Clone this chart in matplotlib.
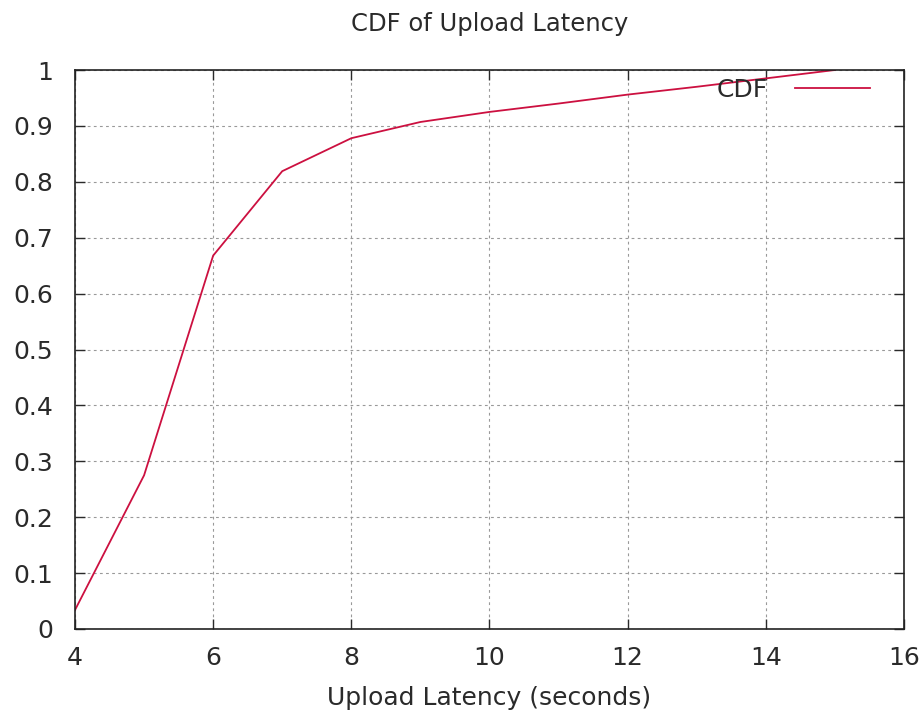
import matplotlib
matplotlib.use("Agg")
import matplotlib.pyplot as plt

latency = [4, 5, 6, 7, 8, 9, 10, 11, 12, 13, 14, 15]
cdf = [0.034, 0.275, 0.668, 0.819, 0.878, 0.907, 0.925, 0.940, 0.956, 0.970, 0.985, 1.0]
xticks = [4, 6, 8, 10, 12, 14, 16]
yticks = [0, 0.1, 0.2, 0.3, 0.4, 0.5, 0.6, 0.7, 0.8, 0.9, 1]
ytick_labels = ["0", "0.1", "0.2", "0.3", "0.4", "0.5", "0.6", "0.7", "0.8", "0.9", "1"]

plt.rcParams['font.family'] = ['DejaVu Sans']
fig = plt.figure(figsize=(9.24, 7.18), dpi=100)
ax = fig.add_axes([75/924, 89/718, 829/924, 559/718])

ax.plot(latency, cdf, color='#cc1040', lw=1.3, label='CDF')
ax.set_xlim(4, 16)
ax.set_ylim(0, 1)
ax.set_xticks(xticks)
ax.set_xticklabels([str(t) for t in xticks])
ax.set_yticks(yticks)
ax.set_yticklabels(ytick_labels)
ax.tick_params(direction='in', length=7, width=1, top=True, right=True,
               labelsize=18, colors='#2a2a2a')
ax.tick_params(axis='x', pad=12)
ax.tick_params(axis='y', pad=16)
ax.grid(True, color='#999999', lw=0.8, linestyle=(0, (2.5, 3)))
for s in ax.spines.values():
    s.set_linewidth(1.2)
    s.set_color('#222222')

ax.set_title('CDF of Upload Latency', fontsize=17.5, color='#2a2a2a', pad=28)
ax.set_xlabel('Upload Latency (seconds)', fontsize=18, color='#2a2a2a', labelpad=12)

leg = ax.legend(loc='center right', bbox_to_anchor=(0.959, 0.964), frameon=False,
                markerfirst=False, fontsize=18, borderpad=0, borderaxespad=0,
                handlelength=3.0, handletextpad=1.08)
for t in leg.get_texts():
    t.set_color('#2a2a2a')

fig.savefig('out.png', dpi=100, facecolor='white')
